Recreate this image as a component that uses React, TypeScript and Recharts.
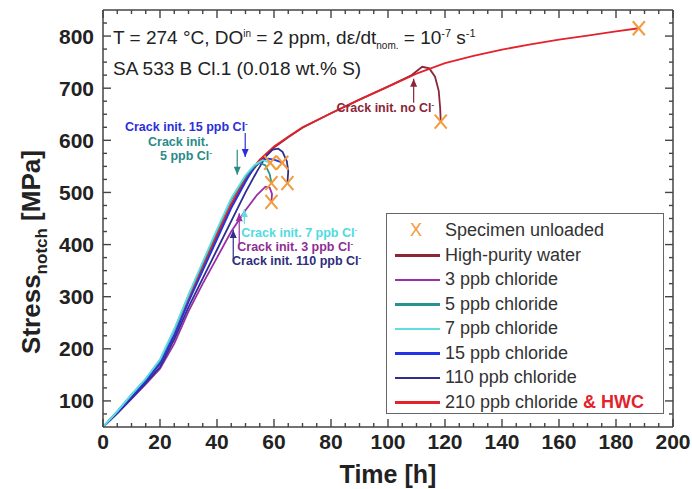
import React from 'react';
import { ComposedChart, Line, Scatter, XAxis, YAxis, ReferenceDot, ReferenceLine, Label } from 'recharts';

const FONT = '"Liberation Sans", Arial, Helvetica, sans-serif';

// time [h] / notch stress [MPa]
const hpwTime = [0, 5, 10, 15, 20, 25, 30, 35, 40, 45, 50, 55, 60, 65, 70, 80, 90, 100, 108, 112, 114.5, 116.5, 117.8, 118.3, 118.5];
const hpwStress = [50, 78, 108, 138, 172, 225, 292, 356, 416, 474, 524, 560, 586, 606, 624, 652, 678, 703, 724, 741, 738, 722, 695, 662, 636];

const hwcTime = [0, 5, 10, 15, 20, 25, 30, 35, 40, 45, 50, 55, 60, 65, 70, 80, 90, 100, 110, 120, 130, 140, 150, 160, 170, 180, 188];
const hwcStress = [50, 78, 108, 138, 172, 226, 294, 358, 420, 478, 528, 563, 588, 607, 625, 652, 678, 703, 728, 748, 762, 774, 784, 793, 801, 809, 815];

const cl3Time = [0, 5, 10, 15, 20, 25, 30, 35, 40, 45, 50, 54, 57, 58.5, 59.3, 59.1];
const cl3Stress = [50, 76, 104, 132, 162, 210, 272, 325, 375, 425, 466, 495, 511, 509, 497, 482];

const cl5Time = [0, 5, 10, 15, 20, 25, 30, 35, 40, 45, 50, 53, 55, 57, 58.5, 59.1];
const cl5Stress = [50, 80, 112, 142, 178, 236, 302, 364, 426, 486, 530, 550, 557, 552, 535, 518];

const cl7Time = [0, 5, 10, 15, 20, 25, 30, 35, 40, 45, 50, 53, 56, 58.7];
const cl7Stress = [50, 80, 112, 143, 180, 238, 304, 367, 429, 489, 533, 552, 562, 557];

const cl15Time = [0, 5, 10, 15, 20, 25, 30, 35, 40, 45, 50, 53, 56, 58, 60, 62, 62.9];
const cl15Stress = [50, 78, 108, 138, 172, 226, 290, 350, 410, 470, 520, 548, 562, 565, 563, 559, 557];

const cl110Time = [0, 5, 10, 15, 20, 25, 30, 35, 40, 45, 50, 54, 57, 59.5, 61.5, 63, 64.5, 65, 64.7];
const cl110Stress = [50, 76, 105, 134, 165, 218, 280, 335, 390, 445, 500, 540, 568, 582, 584, 578, 560, 540, 518];

const unloadTime = [118.5, 188, 59.1, 59.1, 58.7, 62.9, 64.7];
const unloadStress = [636, 815, 482, 518, 557, 557, 518];

const X_MIN = 0;
const X_MAX = 200;
const Y_MIN = 50;
const Y_MAX = 850;
const xMajor = [0, 20, 40, 60, 80, 100, 120, 140, 160, 180, 200];
const yMajor = [100, 200, 300, 400, 500, 600, 700, 800];
const xMinor = Array.from({ length: 39 }, (_, i) => (i + 1) * 5).filter((v) => !xMajor.includes(v));
const yMinor = Array.from({ length: 31 }, (_, i) => 75 + i * 25).filter((v) => !yMajor.includes(v));

const toRows = (t: number[], s: number[]) => t.map((v, i) => ({ t: v, s: s[i] }));

const series = [
  { name: 'High-purity water', color: '#8a2638', rows: toRows(hpwTime, hpwStress) },
  { name: '210 ppb chloride', color: '#e3222b', rows: toRows(hwcTime, hwcStress) },
  { name: '3 ppb chloride', color: '#9a2fa6', rows: toRows(cl3Time, cl3Stress) },
  { name: '110 ppb chloride', color: '#2f2d8e', rows: toRows(cl110Time, cl110Stress) },
  { name: '15 ppb chloride', color: '#2233e8', rows: toRows(cl15Time, cl15Stress) },
  { name: '5 ppb chloride', color: '#2a9191', rows: toRows(cl5Time, cl5Stress) },
  { name: '7 ppb chloride', color: '#5fdde3', rows: toRows(cl7Time, cl7Stress) },
];

const legendItems = [
  { label: 'High-purity water', color: '#8a2638' },
  { label: '3 ppb chloride', color: '#9a2fa6' },
  { label: '5 ppb chloride', color: '#2a9191' },
  { label: '7 ppb chloride', color: '#5fdde3' },
  { label: '15 ppb chloride', color: '#2233e8' },
  { label: '110 ppb chloride', color: '#2f2d8e' },
  { label: '210 ppb chloride', color: '#e3222b' },
];

// crack initiation arrows: tail -> tip
const arrows = [
  { t: 49.9, from: 614, to: 568, color: '#2b2fd9' },
  { t: 47.1, from: 582, to: 534, color: '#2a8a8a' },
  { t: 109, from: 672, to: 718, color: '#8a2638' },
  { t: 49.6, from: 440, to: 468, color: '#5fdde3' },
  { t: 47.8, from: 399, to: 460, color: '#9a2fa6' },
  { t: 45.7, from: 367, to: 428, color: '#2f2d8e' },
];

const notes = [
  { t: 7.7, s: 618, text: 'Crack init. 15 ppb Cl', color: '#2b2fd9' },
  { t: 15.8, s: 589, text: 'Crack init.', color: '#2a8a8a', plain: true },
  { t: 20, s: 562, text: '5 ppb Cl', color: '#2a8a8a' },
  { t: 81.9, s: 655, text: 'Crack init. no Cl', color: '#8a2638' },
  { t: 48.5, s: 415, text: 'Crack init. 7 ppb Cl', color: '#4fdbe2' },
  { t: 47.1, s: 388, text: 'Crack init. 3 ppb Cl', color: '#8e2e93' },
  { t: 45.3, s: 361, text: 'Crack init. 110 ppb Cl', color: '#2f2d7e' },
];

const AXIS = '#444';
const W = 692;
const H = 489;
const MARGIN = { top: 10, right: 19, left: 0, bottom: 0 };
const tickFont = { fontFamily: FONT, fontWeight: 'bold', fontSize: 21, fill: '#222' };

// inward tick marks, one per side
const tickUp = (len: number) => (p: any) => <line x1={p.cx} x2={p.cx} y1={p.cy} y2={p.cy - len} stroke={AXIS} strokeWidth={1.4} />;
const tickDown = (len: number) => (p: any) => <line x1={p.cx} x2={p.cx} y1={p.cy} y2={p.cy + len} stroke={AXIS} strokeWidth={1.4} />;
const tickRight = (len: number) => (p: any) => <line x1={p.cx} x2={p.cx + len} y1={p.cy} y2={p.cy} stroke={AXIS} strokeWidth={1.4} />;
const tickLeft = (len: number) => (p: any) => <line x1={p.cx} x2={p.cx - len} y1={p.cy} y2={p.cy} stroke={AXIS} strokeWidth={1.4} />;

const Cross = (p: any) => (
  <g stroke="#f39a3a" strokeWidth={2}>
    <line x1={p.cx - 6} y1={p.cy - 7} x2={p.cx + 6} y2={p.cy + 7} />
    <line x1={p.cx - 6} y1={p.cy + 7} x2={p.cx + 6} y2={p.cy - 7} />
  </g>
);

const Arrowhead = (color: string, up: boolean) => (p: any) => (
  <path d={up ? `M${p.cx},${p.cy} l-3.5,8 l7,0 z` : `M${p.cx},${p.cy} l-3.5,-8 l7,0 z`} fill={color} />
);

const NoteText = (text: string, color: string, plain?: boolean) => (p: any) => (
  <text x={p.cx} y={p.cy} fontFamily={FONT} fontWeight="bold" fontSize={12.5} fill={color}>
    {text}
    {!plain && <tspan fontSize={8} dy={-5}>-</tspan>}
  </text>
);

const LegendBox = () => (
  <div
    style={{
      position: 'absolute',
      left: 386,
      top: 213,
      border: '1px solid #666',
      background: '#fff',
      width: 278,
      height: 201,
      boxSizing: 'border-box',
      fontFamily: FONT,
      fontSize: 18,
      color: '#333',
      padding: '4px 0 0 0',
    }}
  >
    <div style={{ display: 'flex', alignItems: 'center', height: 25 }}>
      <span style={{ width: 58, textAlign: 'center', color: '#f39a3a', fontSize: 18 }}>X</span>
      <span>Specimen unloaded</span>
    </div>
    {legendItems.map((it) => (
      <div key={it.label} style={{ display: 'flex', alignItems: 'center', height: 24.5 }}>
        <span style={{ display: 'inline-block', width: 45, height: 2.5, background: it.color, margin: '0 5px 0 8px' }} />
        <span>{it.label}</span>
        {it.label.startsWith('210') && <span style={{ color: '#e3222b', fontWeight: 'bold', marginLeft: 5 }}>&amp; HWC</span>}
      </div>
    ))}
  </div>
);

// frame + inward ticks, on a second chart with the same axes laid over the first
const FrameChart = () => (
  <div style={{ position: 'absolute', left: 0, top: 0 }}>
    <ComposedChart width={W} height={H} margin={MARGIN}>
      <XAxis dataKey="t" type="number" domain={[X_MIN, X_MAX]} ticks={xMajor} interval={0} allowDataOverflow height={62}
        tick={false} tickLine={false} axisLine={false} />
      <YAxis dataKey="s" type="number" domain={[Y_MIN, Y_MAX]} ticks={yMajor} interval={0} allowDataOverflow width={103}
        tick={false} tickLine={false} axisLine={false} />
      <ReferenceLine segment={[{ x: X_MIN, y: Y_MAX }, { x: X_MAX, y: Y_MAX }]} stroke={AXIS} strokeWidth={1.5} />
      <ReferenceLine segment={[{ x: X_MAX, y: Y_MIN }, { x: X_MAX, y: Y_MAX }]} stroke={AXIS} strokeWidth={1.5} />
      {xMajor.map((v) => <ReferenceDot key={`xb${v}`} x={v} y={Y_MIN} r={0} ifOverflow="visible" shape={tickUp(8)} />)}
      {xMajor.map((v) => <ReferenceDot key={`xt${v}`} x={v} y={Y_MAX} r={0} ifOverflow="visible" shape={tickDown(8)} />)}
      {xMinor.map((v) => <ReferenceDot key={`xbm${v}`} x={v} y={Y_MIN} r={0} ifOverflow="visible" shape={tickUp(4)} />)}
      {xMinor.map((v) => <ReferenceDot key={`xtm${v}`} x={v} y={Y_MAX} r={0} ifOverflow="visible" shape={tickDown(4)} />)}
      {yMajor.map((v) => <ReferenceDot key={`yl${v}`} x={X_MIN} y={v} r={0} ifOverflow="visible" shape={tickRight(8)} />)}
      {yMajor.map((v) => <ReferenceDot key={`yr${v}`} x={X_MAX} y={v} r={0} ifOverflow="visible" shape={tickLeft(8)} />)}
      {yMinor.map((v) => <ReferenceDot key={`ylm${v}`} x={X_MIN} y={v} r={0} ifOverflow="visible" shape={tickRight(4)} />)}
      {yMinor.map((v) => <ReferenceDot key={`yrm${v}`} x={X_MAX} y={v} r={0} ifOverflow="visible" shape={tickLeft(4)} />)}
      <Line data={toRows(hwcTime, hwcStress)} dataKey="s" stroke="none" dot={false} isAnimationActive={false} />
    </ComposedChart>
  </div>
);

export default function App() {
  return (
    <div style={{ position: 'absolute', left: 0, top: 0, width: W, height: H, background: '#fff' }}>
      <ComposedChart width={W} height={H} margin={MARGIN}>
        <XAxis dataKey="t" type="number" domain={[X_MIN, X_MAX]} ticks={xMajor} interval={0} allowDataOverflow height={62}
          tickSize={0} tickMargin={7} tickLine={false} tick={tickFont} axisLine={{ stroke: AXIS, strokeWidth: 1.5 }}>
          <Label value="Time [h]" position="insideBottom" offset={6} style={{ fontFamily: FONT, fontWeight: 'bold', fontSize: 25, fill: '#222' }} />
        </XAxis>
        <YAxis dataKey="s" type="number" domain={[Y_MIN, Y_MAX]} ticks={yMajor} interval={0} allowDataOverflow width={103}
          tickSize={0} tickMargin={9} tickLine={false} tick={tickFont} axisLine={{ stroke: AXIS, strokeWidth: 1.5 }} />

        {series.map((s) => (
          <Line key={s.name} data={s.rows} dataKey="s" name={s.name} type="linear" stroke={s.color}
            strokeWidth={1.8} dot={false} isAnimationActive={false} />
        ))}
        <Scatter name="Specimen unloaded" data={toRows(unloadTime, unloadStress)} dataKey="s" shape={Cross} isAnimationActive={false} />

        {arrows.map((a, i) => (
          <ReferenceLine key={`al${i}`} segment={[{ x: a.t, y: a.from }, { x: a.t, y: a.to }]} stroke={a.color} strokeWidth={1.2} />
        ))}
        {arrows.map((a, i) => (
          <ReferenceDot key={`ah${i}`} x={a.t} y={a.to} r={0} shape={Arrowhead(a.color, a.to > a.from)} />
        ))}
        {notes.map((n, i) => (
          <ReferenceDot key={`n${i}`} x={n.t} y={n.s} r={0} shape={NoteText(n.text, n.color, n.plain)} />
        ))}
      </ComposedChart>

      <FrameChart />
      <LegendBox />
      <div
        style={{
          position: 'absolute',
          left: 34,
          top: 252,
          transform: 'translate(-50%, -50%) rotate(-90deg)',
          whiteSpace: 'nowrap',
          fontFamily: FONT,
          fontWeight: 'bold',
          fontSize: 26,
          color: '#222',
        }}
      >
        Stress<sub style={{ fontSize: 17 }}>notch</sub> [MPa]
      </div>
      <div style={{ position: 'absolute', left: 113, top: 22, fontFamily: FONT, fontSize: 19, color: '#222', lineHeight: '23px' }}>
        <div>
          T = 274 °C, DO<sup style={{ fontSize: 10 }}>in</sup> = 2 ppm, dε/dt<sub style={{ fontSize: 10 }}>nom.</sub> = 10
          <sup style={{ fontSize: 11 }}>-7</sup> s<sup style={{ fontSize: 11 }}>-1</sup>
        </div>
        <div>SA 533 B Cl.1 (0.018 wt.% S)</div>
      </div>
    </div>
  );
}
